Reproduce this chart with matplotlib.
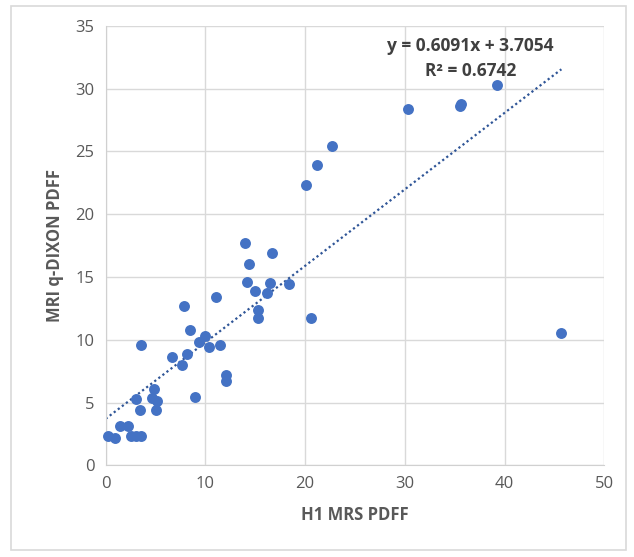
import numpy as np
import matplotlib.pyplot as plt
from matplotlib.patches import Rectangle

# H1 MRS PDFF (x) vs MRI q-DIXON PDFF (y)
mrs = [0.2, 0.95, 1.4, 2.2, 2.5, 3.0, 3.5, 3.0, 3.4, 3.5, 4.6, 4.8, 5.1, 5.0,
       6.7, 7.7, 7.85, 8.2, 8.45, 9.0, 9.4, 10.0, 10.4, 11.1, 11.5, 12.1, 12.1,
       13.95, 14.2, 14.4, 15.0, 15.3, 15.3, 16.2, 16.5, 16.65, 18.35, 20.1,
       20.6, 21.2, 22.7, 30.3, 35.5, 35.6, 39.2, 45.7]
dixon = [2.3, 2.15, 3.1, 3.1, 2.3, 2.3, 2.3, 5.3, 4.4, 9.6, 5.4, 6.1, 5.1, 4.4,
         8.6, 8.0, 12.65, 8.85, 10.75, 5.45, 9.8, 10.3, 9.45, 13.4, 9.6, 7.2, 6.7,
         17.7, 14.6, 16.0, 13.9, 12.4, 11.7, 13.7, 14.5, 16.9, 14.45, 22.3,
         11.7, 23.9, 25.4, 28.4, 28.6, 28.8, 30.3, 10.5]

slope, intercept = 0.6091, 3.7054
eq_text = 'y = 0.6091x + 3.7054\nR² = 0.6742'

plt.rcParams['font.family'] = ['Open Sans', 'DejaVu Sans']

fig = plt.figure(figsize=(6.34, 5.57), dpi=100)
ax = fig.add_axes([0.1667, 0.1646, 0.7864, 0.789])

ax.scatter(mrs, dixon, s=62, color='#4472C4', zorder=3, linewidths=0, clip_on=False)

xs = np.array([0, max(mrs)])
ax.plot(xs, slope * xs + intercept, linestyle=(0, (1, 1.3)), color='#2F5597',
        linewidth=1.6, zorder=2)

ax.text(36.6, 32.4, eq_text, ha='center', va='center', fontsize=12.5,
        fontweight='bold', color='#404040', linespacing=1.45)

ax.set_xlim(0, 50)
ax.set_ylim(0, 35)
ax.set_xticks(range(0, 51, 10))
ax.set_yticks(range(0, 36, 5))
ax.grid(True, color='#D9D9D9', linewidth=1)
ax.set_axisbelow(True)
for side in ['top', 'right']:
    ax.spines[side].set_visible(False)
for side in ['left', 'bottom']:
    ax.spines[side].set_color('#D0D0D0')
ax.tick_params(length=0, labelsize=12, colors='#595959', pad=8)

ax.set_xlabel('H1 MRS PDFF', fontsize=12, fontweight='bold', color='#595959', labelpad=10)
ax.set_ylabel('MRI q-DIXON PDFF', fontsize=12, fontweight='bold', color='#595959', labelpad=8)

fig.patches.append(Rectangle((0.017, 0.012), 0.97, 0.978, transform=fig.transFigure,
                             fill=False, edgecolor='#D9D9D9', linewidth=1.2))

fig.savefig('out.png', dpi=100)
